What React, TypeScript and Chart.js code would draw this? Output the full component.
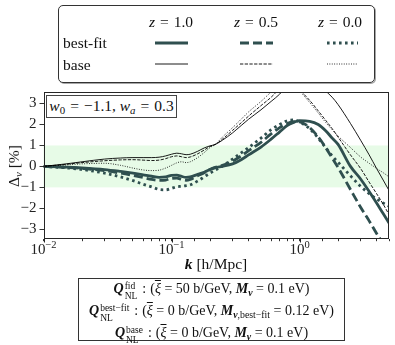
import React, { useEffect, useRef } from 'react';
import { Chart, registerables } from 'chart.js';

Chart.register(...registerables);

// ---- data ----
const kValues = [0.01, 0.015, 0.02, 0.03, 0.04, 0.05, 0.06, 0.07, 0.08, 0.09, 0.1, 0.11, 0.12, 0.13, 0.14,
  0.16, 0.18, 0.2, 0.22, 0.25, 0.3, 0.35, 0.4,
  0.5, 0.6, 0.7, 0.8, 0.9, 1.0,
  1.2, 1.4, 1.6, 1.8, 2.0,
  2.5, 3.0, 3.5, 4.0, 4.5, 5.0];

const bestFitZ10 = [0, -0.03, -0.07, -0.15, -0.24, -0.32, -0.4, -0.47, -0.52, -0.5, -0.43, -0.42, -0.48, -0.52, -0.5,
  -0.38, -0.28, -0.15, -0.06, 0.0, 0.12, 0.32, 0.55,
  0.92, 1.3, 1.65, 1.95, 2.1, 2.18,
  2.15, 2.0, 1.7, 1.35, 1.05,
  0.0, -0.6, -1.2, -1.75, -2.25, -2.7];

const bestFitZ05 = [0, -0.05, -0.1, -0.2, -0.32, -0.43, -0.53, -0.62, -0.67, -0.65, -0.57, -0.56, -0.62, -0.66, -0.62,
  -0.45, -0.3, -0.15, -0.05, 0.05, 0.25, 0.5, 0.75,
  1.15, 1.55, 1.85, 2.05, 2.13, 2.12,
  1.85, 1.4, 0.9, 0.4, -0.05,
  -1.1, -1.95, -2.6, -3.2, -3.7, -4.2];

const bestFitZ00 = [0, -0.07, -0.15, -0.32, -0.5, -0.68, -0.85, -0.98, -1.1, -1.12, -1.05, -0.97, -0.95, -0.92, -0.88,
  -0.7, -0.5, -0.32, -0.17, 0.02, 0.35, 0.65, 0.9,
  1.35, 1.75, 2.0, 2.18, 2.22, 2.12,
  1.8, 1.35, 0.9, 0.5, 0.2,
  -0.45, -0.95, -1.3, -1.55, -1.75, -1.9];

const baseZ10 = [0, 0.12, 0.22, 0.35, 0.4, 0.42, 0.42, 0.42, 0.44, 0.5, 0.58, 0.63, 0.6, 0.56, 0.58,
  0.72, 0.88, 0.98, 1.05, 1.25, 1.6, 1.95, 2.25,
  2.7, 3.1, 3.45, 3.85, 4.1, 4.25,
  4.3, 4.0, 3.6, 3.3, 2.95,
  2.05, 1.25, 0.55, -0.1, -0.65, -1.15];

const baseZ05 = [0, 0.1, 0.18, 0.27, 0.31, 0.32, 0.3, 0.28, 0.3, 0.37, 0.46, 0.5, 0.46, 0.42, 0.45,
  0.6, 0.78, 0.95, 1.05, 1.3, 1.72, 2.08, 2.4,
  2.9, 3.3, 3.7, 3.95, 3.9, 3.65,
  3.15, 2.65, 2.2, 1.8, 1.4,
  0.55, -0.1, -0.75, -1.3, -1.8, -2.3];

const baseZ00 = [0, 0.07, 0.12, 0.15, 0.05, -0.08, -0.17, -0.2, -0.18, -0.08, 0.05, 0.17, 0.22, 0.18, 0.22,
  0.42, 0.66, 0.9, 1.05, 1.4, 1.85, 2.25, 2.6,
  3.1, 3.55, 3.9, 4.0, 3.85, 3.6,
  3.05, 2.55, 2.1, 1.75, 1.45,
  0.9, 0.45, 0.15, -0.1, -0.3, -0.5];

const yTicks = [-3, -2, -1, 0, 1, 2, 3];
const bandLow = -1;
const bandHigh = 1;
const xMin = 0.01;
const xMax = 5;
const yMin = -3.45;
const yMax = 3.55;

const redshiftLabels = ['1.0', '0.5', '0.0'];

const TEAL = '#2f4f4f';
const SERIF = '"Liberation Serif", "Times New Roman", serif';

const series = [
  { data: baseZ10, color: '#000', width: 0.9, dash: [] as number[] },
  { data: baseZ05, color: '#000', width: 0.9, dash: [3.3, 1.4] },
  { data: baseZ00, color: '#000', width: 0.9, dash: [0.9, 1.5] },
  { data: bestFitZ10, color: TEAL, width: 2.8, dash: [] as number[] },
  { data: bestFitZ05, color: TEAL, width: 2.8, dash: [9, 4] },
  { data: bestFitZ00, color: TEAL, width: 2.8, dash: [2.6, 3.4] },
];

// legend sample placement (pixel layout)
const legendCols = [[155, 188], [240, 273], [327, 358]];
const legendRows = { best: 43, base: 64 };

const plotPlugin = {
  id: 'plotDecor',
  beforeDraw(chart: any) {
    const { ctx, chartArea: a, scales } = chart;
    const y = scales.y;
    ctx.save();
    ctx.fillStyle = 'rgba(144,238,144,0.22)';
    const t = y.getPixelForValue(bandHigh);
    const b = y.getPixelForValue(bandLow);
    ctx.fillRect(a.left, t, a.right - a.left, b - t);
    ctx.restore();
  },
  afterDraw(chart: any) {
    const { ctx, chartArea: a, scales } = chart;
    const x = scales.x;
    ctx.save();
    // frame
    ctx.strokeStyle = '#262626';
    ctx.lineWidth = 1;
    const L = Math.round(a.left) + 0.5, R = Math.round(a.right) - 0.5;
    const T = Math.round(a.top) + 0.5, B = Math.round(a.bottom) - 0.5;
    ctx.strokeRect(L, T, R - L, B - T);
    // x tick labels with superscript exponents + longer major ticks
    for (const tk of x.ticks) {
      const v = tk.value;
      const e = Math.log10(v);
      if (Math.abs(e - Math.round(e)) > 1e-6) continue;
      const px = x.getPixelForValue(v);
      ctx.beginPath();
      ctx.moveTo(Math.round(px) + 0.5, B);
      ctx.lineTo(Math.round(px) + 0.5, B + 4);
      ctx.stroke();
      const ex = Math.round(e);
      const expStr = ex < 0 ? '\u2212' + Math.abs(ex) : String(ex);
      ctx.font = `15px ${SERIF}`;
      const w1 = ctx.measureText('10').width;
      ctx.font = `10.5px ${SERIF}`;
      const w2 = ctx.measureText(expStr).width;
      const x0 = px - (w1 + w2) / 2;
      ctx.fillStyle = '#222';
      ctx.textBaseline = 'alphabetic';
      ctx.textAlign = 'left';
      ctx.font = `15px ${SERIF}`;
      ctx.fillText('10', x0, a.bottom + 15);
      ctx.font = `10.5px ${SERIF}`;
      ctx.fillText(expStr, x0 + w1, a.bottom + 9);
    }
    // legend samples
    chart.data.datasets.forEach((ds: any, i: number) => {
      const col = legendCols[i % 3];
      const yy = i < 3 ? legendRows.base : legendRows.best;
      ctx.beginPath();
      ctx.strokeStyle = ds.borderColor;
      ctx.lineWidth = ds.borderWidth;
      ctx.setLineDash(ds.borderDash || []);
      ctx.lineCap = 'butt';
      ctx.moveTo(col[0], yy);
      ctx.lineTo(col[1], yy);
      ctx.stroke();
    });
    ctx.restore();
  },
};

const Sub = ({ children }: any) => (
  <span style={{ fontSize: '0.7em', verticalAlign: '-0.3em', lineHeight: 0 }}>{children}</span>
);

const SupSub = ({ up, down }: any) => (
  <span style={{ display: 'inline-flex', flexDirection: 'column', fontSize: '0.68em', lineHeight: 1.0,
    verticalAlign: '0.42em', alignItems: 'flex-start', margin: '0 1px 0 1px' }}>
    <span>{up}</span>
    <span>{down}</span>
  </span>
);

const BI = ({ children }: any) => <b><i>{children}</i></b>;

const Eq = () => <span style={{ margin: '0 5px' }}>=</span>;

const XiBar = () => <i style={{ textDecoration: 'overline' }}>{'\u03be'}</i>;

const Colon = () => <span style={{ margin: '0 4px' }}>:</span>;

export default function App() {
  const ref = useRef<HTMLCanvasElement>(null);
  useEffect(() => {
    if (!ref.current) return;
    const chart = new Chart(ref.current, {
      type: 'line',
      data: {
        datasets: series.map((s) => ({
          data: kValues.map((k, i) => ({ x: k, y: s.data[i] })),
          borderColor: s.color,
          borderWidth: s.width,
          borderDash: s.dash,
          pointRadius: 0,
          fill: false,
          cubicInterpolationMode: 'monotone' as const,
        })),
      },
      options: {
        responsive: false,
        animation: false,
        devicePixelRatio: 1,
        layout: { padding: { left: 0, right: 6, top: 92, bottom: 86.3 } },
        plugins: { legend: { display: false }, tooltip: { enabled: false } },
        scales: {
          x: {
            type: 'logarithmic',
            min: xMin,
            max: xMax,
            border: { display: false },
            grid: { display: true, drawOnChartArea: false, drawTicks: true, tickLength: 2.5, tickColor: '#333' },
            ticks: { display: false },
            afterFit: (s: any) => { s.height = 20; },
          },
          y: {
            type: 'linear',
            min: yMin,
            max: yMax,
            border: { display: false },
            grid: { display: true, drawOnChartArea: false, drawTicks: true, tickLength: 4, tickColor: '#333' },
            ticks: {
              padding: 3,
              color: '#222',
              font: { family: SERIF, size: 15 },
              callback: (v: any) => (v < 0 ? '\u2212' + Math.abs(v) : String(v)),
            },
            afterBuildTicks: (s: any) => { s.ticks = yTicks.map((v) => ({ value: v })); },
            afterFit: (s: any) => { s.width = 43.5; },
          },
        },
      },
      plugins: [plotPlugin],
    } as any);
    return () => chart.destroy();
  }, []);

  const abs = (x: number, y: number, extra: any = {}) => ({
    position: 'absolute' as const, left: x, top: y, transform: 'translate(-50%,-50%)', whiteSpace: 'nowrap' as const, ...extra,
  });

  return (
    <div style={{ position: 'absolute', left: 0, top: 0, width: 395, height: 345, background: '#fff',
      fontFamily: SERIF, color: '#111', overflow: 'hidden' }}>
      <canvas ref={ref} width={395} height={345} style={{ position: 'absolute', left: 0, top: 0, width: 395, height: 345 }} />
      {/* legend */}
      <div style={{ position: 'absolute', left: 58, top: 5, width: 317, height: 78, boxSizing: 'border-box',
        border: '1px solid #333', borderRadius: 5, boxShadow: '1px 1px 0 rgba(0,0,0,0.35)' }} />
      {redshiftLabels.map((z, i) => (
        <div key={z} style={abs([171, 256, 340][i], 22, { fontSize: 15.5 })}><i>z</i><Eq />{z}</div>
      ))}
      <div style={{ position: 'absolute', left: 63, top: 43, transform: 'translateY(-50%)', fontSize: 15.5, whiteSpace: 'nowrap' }}>best-fit</div>
      <div style={{ position: 'absolute', left: 63, top: 65, transform: 'translateY(-50%)', fontSize: 15.5, whiteSpace: 'nowrap' }}>base</div>
      {/* annotation */}
      <div style={{ position: 'absolute', left: 46, top: 95, width: 131, height: 23, boxSizing: 'border-box',
        border: '1px solid #444', background: '#fff', fontSize: 15.5, lineHeight: '20px', textAlign: 'center', whiteSpace: 'nowrap' }}>
        <i>w</i><Sub>0</Sub><Eq />{'\u2212'}1.1, <i>w</i><Sub><i>a</i></Sub><Eq />0.3
      </div>
      {/* y title */}
      <div style={abs(14, 166, { transform: 'translate(-50%,-50%) rotate(-90deg)', fontSize: 15.5 })}>
        {'\u0394'}<Sub><i>{'\u03bd'}</i></Sub> [%]
      </div>
      {/* x title */}
      <div style={abs(216, 264, { fontSize: 15.5 })}><BI>k</BI> [h/Mpc]</div>
      {/* bottom box */}
      <div style={{ position: 'absolute', left: 78, top: 278, width: 267, height: 63, boxSizing: 'border-box',
        border: '1px solid #333', textAlign: 'center', fontSize: 14, lineHeight: '20px', paddingTop: 0, whiteSpace: 'nowrap' }}>
        <div><BI>Q</BI><SupSub up="fid" down="NL" /><Colon />(<XiBar /> = 50 b/GeV, <BI>M</BI><Sub><BI>{'\u03bd'}</BI></Sub> = 0.1 eV)</div>
        <div><BI>Q</BI><SupSub up={'best\u2212fit'} down="NL" /><Colon />(<XiBar /> = 0 b/GeV, <BI>M</BI><Sub><BI>{'\u03bd'}</BI>,best{'\u2212'}fit</Sub> = 0.12 eV)</div>
        <div><BI>Q</BI><SupSub up="base" down="NL" /><Colon />(<XiBar /> = 0 b/GeV, <BI>M</BI><Sub><BI>{'\u03bd'}</BI></Sub> = 0.1 eV)</div>
      </div>
    </div>
  );
}
